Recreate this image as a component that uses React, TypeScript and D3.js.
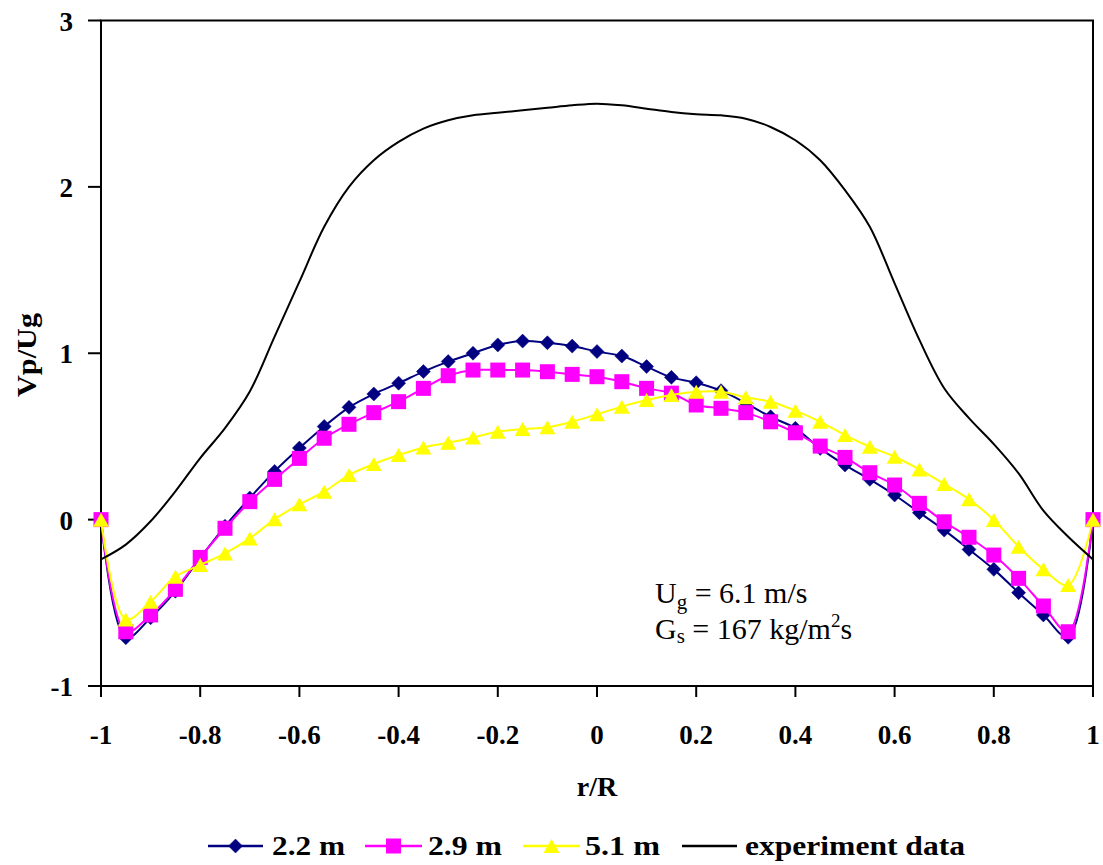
import React from "react";
import * as d3 from "d3";

// Radial positions r/R where the particle velocity profiles are evaluated
const radialPositions = [
  -1, -0.95, -0.9, -0.85, -0.8, -0.75, -0.7, -0.65, -0.6, -0.55, -0.5, -0.45, -0.4, -0.35,
  -0.3, -0.25, -0.2, -0.15, -0.1, -0.05, 0, 0.05, 0.1, 0.15, 0.2, 0.25, 0.3, 0.35, 0.4,
  0.45, 0.5, 0.55, 0.6, 0.65, 0.7, 0.75, 0.8, 0.85, 0.9, 0.95, 1,
];

// Vp/Ug at height 2.2 m
const height22 = [
  0, -0.71, -0.59, -0.43, -0.23, -0.04, 0.13, 0.29, 0.43, 0.56, 0.675, 0.755, 0.82, 0.89,
  0.95, 1.0, 1.05, 1.073, 1.063, 1.043, 1.01, 0.983, 0.92, 0.855, 0.823, 0.775, 0.7, 0.618,
  0.549, 0.428, 0.328, 0.242, 0.148, 0.042, -0.063, -0.179, -0.299, -0.439, -0.573, -0.707, 0,
];

// Vp/Ug at height 2.9 m
const height29 = [
  0, -0.674, -0.573, -0.419, -0.227, -0.052, 0.108, 0.242, 0.368, 0.489, 0.573, 0.643, 0.709,
  0.789, 0.865, 0.899, 0.899, 0.899, 0.889, 0.873, 0.859, 0.829, 0.789, 0.76, 0.689, 0.669,
  0.643, 0.588, 0.522, 0.442, 0.374, 0.282, 0.208, 0.098, -0.013, -0.106, -0.213, -0.353,
  -0.519, -0.674, 0,
];

// Vp/Ug at height 5.1 m
const height51 = [
  0, -0.6, -0.493, -0.343, -0.273, -0.203, -0.113, 0.002, 0.092, 0.168, 0.268, 0.334, 0.388,
  0.434, 0.462, 0.494, 0.528, 0.544, 0.555, 0.588, 0.633, 0.679, 0.719, 0.749, 0.769, 0.769,
  0.735, 0.709, 0.655, 0.588, 0.508, 0.438, 0.378, 0.302, 0.214, 0.122, -0.002, -0.163,
  -0.299, -0.393, 0,
];

// Measured profile
const experimentData = [
  -0.239, -0.15, -0.01, 0.17, 0.37, 0.55, 0.77, 1.1, 1.43, 1.76, 2.0, 2.16, 2.27, 2.35,
  2.4, 2.43, 2.445, 2.46, 2.475, 2.49, 2.5, 2.49, 2.47, 2.45, 2.437, 2.43, 2.41, 2.36, 2.28,
  2.16, 1.98, 1.76, 1.42, 1.08, 0.79, 0.61, 0.454, 0.278, 0.054, -0.103, -0.239,
];

const xTickValues = [-1, -0.8, -0.6, -0.4, -0.2, 0, 0.2, 0.4, 0.6, 0.8, 1];
const xTickLabels = ["-1", "-0.8", "-0.6", "-0.4", "-0.2", "0", "0.2", "0.4", "0.6", "0.8", "1"];
const yTickValues = [-1, 0, 1, 2, 3];
const yTickLabels = ["-1", "0", "1", "2", "3"];

const seriesNames = ["2.2 m", "2.9 m", "5.1 m", "experiment data"];

const W = 1103;
const H = 865;
const FONT = "'Times New Roman', 'Liberation Serif', serif";

const x = d3.scaleLinear().domain([-1, 1]).range([101, 1093]);
const y = d3.scaleLinear().domain([-1, 3]).range([686, 20.5]);

const lineGen = d3
  .line<[number, number]>()
  .x((d) => x(d[0]))
  .y((d) => y(d[1]))
  .curve(d3.curveCatmullRom.alpha(0.5));

const zip = (vals: number[]): [number, number][] =>
  radialPositions.map((r, i) => [r, vals[i]]);

type MarkerKind = "diamond" | "square" | "triangle";

function Marker({ kind, cx, cy, color }: { kind: MarkerKind; cx: number; cy: number; color: string }) {
  if (kind === "diamond") {
    const s = 7;
    return (
      <path
        d={`M${cx},${cy - s}L${cx + s},${cy}L${cx},${cy + s}L${cx - s},${cy}Z`}
        fill={color}
        stroke={color}
        strokeWidth={0.5}
      />
    );
  }
  if (kind === "square") {
    const s = 7.5;
    return <rect x={cx - s} y={cy - s} width={2 * s} height={2 * s} fill={color} />;
  }
  const h = 7;
  const w = 8;
  return (
    <path
      d={`M${cx},${cy - h}L${cx + w},${cy + h}L${cx - w},${cy + h}Z`}
      fill={color}
    />
  );
}

const series: { name: string; values: number[]; color: string; kind: MarkerKind }[] = [
  { name: seriesNames[0], values: height22, color: "#000080", kind: "diamond" },
  { name: seriesNames[1], values: height29, color: "#FF00FF", kind: "square" },
  { name: seriesNames[2], values: height51, color: "#FFFF00", kind: "triangle" },
];

export default function App() {
  const legendY = 846;
  const legendItems = [
    { x0: 208, x1: 263, tx: 272, tl: 73, color: "#000080", kind: "diamond" as MarkerKind, label: seriesNames[0] },
    { x0: 365, x1: 422, tx: 428, tl: 74, color: "#FF00FF", kind: "square" as MarkerKind, label: seriesNames[1] },
    { x0: 523, x1: 580, tx: 585, tl: 75, color: "#FFFF00", kind: "triangle" as MarkerKind, label: seriesNames[2] },
  ];

  return (
    <svg
      width={W}
      height={H}
      style={{ position: "absolute", left: 0, top: 0, background: "#fff" }}
      fontFamily={FONT}
    >
      <rect width={W} height={H} fill="#fff" />

      {/* frame */}
      <rect
        x={x(-1)}
        y={y(3)}
        width={x(1) - x(-1)}
        height={y(-1) - y(3)}
        fill="none"
        stroke="#000"
        strokeWidth={2}
      />

      {/* y ticks */}
      {yTickValues.map((v, i) => (
        <g key={`yt${i}`}>
          <line x1={x(-1) - 13} x2={x(-1)} y1={y(v)} y2={y(v)} stroke="#000" strokeWidth={2} />
          <text
            x={73}
            y={y(v) + 10}
            textAnchor="end"
            fontSize={27}
            fontWeight="bold"
          >
            {yTickLabels[i]}
          </text>
        </g>
      ))}

      {/* x ticks */}
      {xTickValues.map((v, i) => (
        <g key={`xt${i}`}>
          <line x1={x(v)} x2={x(v)} y1={y(-1)} y2={y(-1) + 11} stroke="#000" strokeWidth={2} />
          <text x={x(v)} y={744} textAnchor="middle" fontSize={27} fontWeight="bold">
            {xTickLabels[i]}
          </text>
        </g>
      ))}

      {/* axis titles */}
      <text x={597} y={796} textAnchor="middle" fontSize={28} fontWeight="bold">
        r/R
      </text>
      <text
        transform="translate(36,355) rotate(-90)"
        textAnchor="middle"
        fontSize={27}
        fontWeight="bold"
        textLength={84}
        lengthAdjust="spacingAndGlyphs"
      >
        Vp/Ug
      </text>

      {/* simulated profiles */}
      {series.map((s) => (
        <g key={s.name}>
          <path d={lineGen(zip(s.values)) || ""} fill="none" stroke={s.color} strokeWidth={2} />
          {radialPositions.map((r, i) => (
            <Marker key={i} kind={s.kind} cx={x(r)} cy={y(s.values[i])} color={s.color} />
          ))}
        </g>
      ))}

      {/* measured profile */}
      <path d={lineGen(zip(experimentData)) || ""} fill="none" stroke="#000" strokeWidth={2} />

      {/* operating conditions */}
      <text x={655} y={603} fontSize={30}>
        U
        <tspan fontSize={21} dy={6}>g</tspan>
        <tspan dy={-6}> = 6.1 m/s</tspan>
      </text>
      <text x={655} y={639} fontSize={30}>
        G
        <tspan fontSize={21} dy={4}>s</tspan>
        <tspan dy={-4}> = 167 kg/m</tspan>
        <tspan fontSize={19} dy={-12}>2</tspan>
        <tspan dy={12}>s</tspan>
      </text>

      {/* legend */}
      {legendItems.map((it) => (
        <g key={it.label}>
          <line x1={it.x0} x2={it.x1} y1={legendY} y2={legendY} stroke={it.color} strokeWidth={2.5} />
          <Marker kind={it.kind} cx={(it.x0 + it.x1) / 2} cy={legendY} color={it.color} />
          <text
            x={it.tx}
            y={855}
            fontSize={27}
            fontWeight="bold"
            textLength={it.tl}
            lengthAdjust="spacingAndGlyphs"
          >
            {it.label}
          </text>
        </g>
      ))}
      <line x1={682} x2={737} y1={legendY} y2={legendY} stroke="#000" strokeWidth={2.5} />
      <text
        x={745}
        y={855}
        fontSize={27}
        fontWeight="bold"
        textLength={220}
        lengthAdjust="spacingAndGlyphs"
      >
        {seriesNames[3]}
      </text>
    </svg>
  );
}
